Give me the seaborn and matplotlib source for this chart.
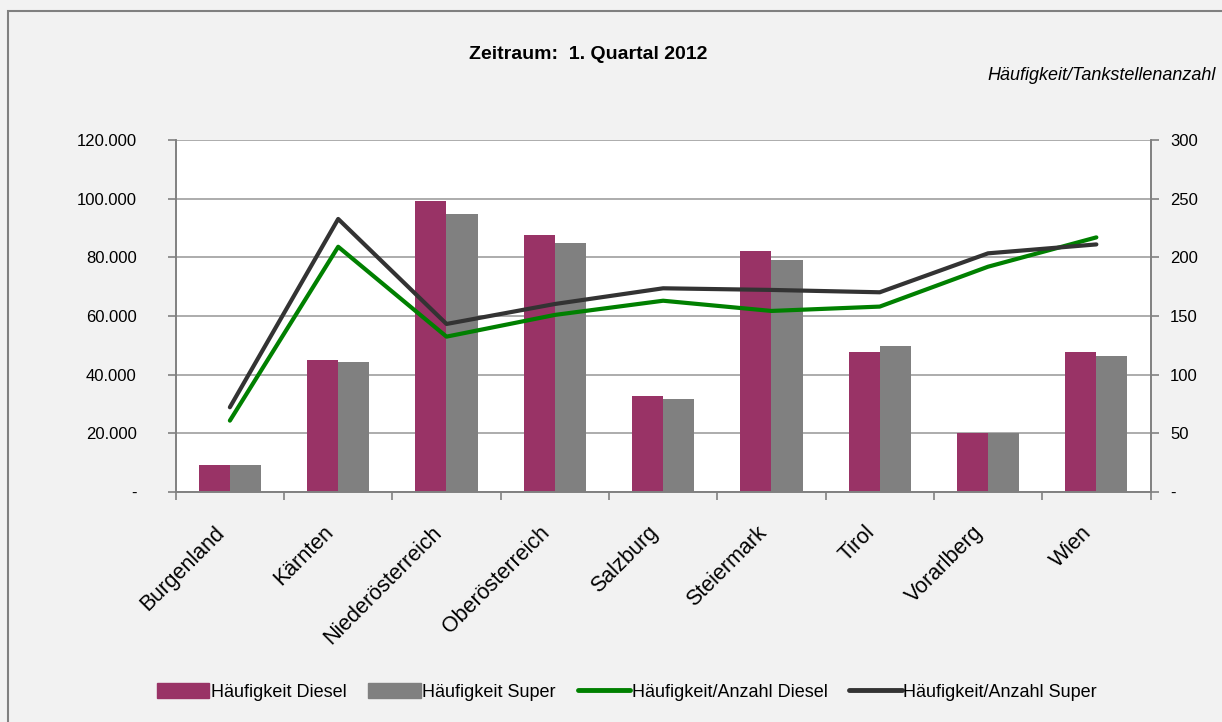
import matplotlib.pyplot as plt
import matplotlib.patches as mpatches
import matplotlib.lines as mlines
from matplotlib.ticker import FuncFormatter, FixedLocator
from matplotlib.transforms import ScaledTranslation
import seaborn as sns
import pandas as pd
import numpy as np

# Data
regions = ['Burgenland', 'Kärnten', 'Niederösterreich', 'Oberösterreich', 'Salzburg',
           'Steiermark', 'Tirol', 'Vorarlberg', 'Wien']
freq_diesel = [9200, 45000, 99200, 87600, 32700, 82200, 47700, 20000, 47700]
freq_super = [9200, 44300, 94800, 84900, 31700, 79100, 49800, 20000, 46400]
ratio_diesel = [60.8, 209, 132.4, 150.9, 163, 154.3, 158, 192, 217]
ratio_super = [72.2, 232.7, 143.2, 160.2, 173.6, 172.2, 170.2, 203.4, 211]

c_diesel = '#993366'
c_super = '#808080'
c_line_d = '#008000'
c_line_s = '#333333'

sns.set_theme(style='white')
plt.rcParams['font.family'] = ['Liberation Sans', 'DejaVu Sans']
plt.rcParams['text.color'] = 'black'
plt.rcParams['xtick.color'] = 'black'
plt.rcParams['ytick.color'] = 'black'

df = pd.DataFrame({
    'Region': regions * 2,
    'Wert': freq_diesel + freq_super,
    'Serie': ['Häufigkeit Diesel'] * 9 + ['Häufigkeit Super'] * 9,
})

fig = plt.figure(figsize=(12.22, 7.22), dpi=100, facecolor='#f2f2f2')
fig.patches.append(mpatches.Rectangle((8 / 1222, -0.01), 1.1, 1 - 11 / 722 + 0.01,
                                      transform=fig.transFigure, fill=False,
                                      edgecolor='#808080', linewidth=1.5))
ax = fig.add_axes([0.1438, 0.3186, 0.7977, 0.4875])
ax.set_facecolor('white')

sns.barplot(data=df, x='Region', y='Wert', hue='Serie', order=regions,
            palette=[c_diesel, c_super], width=0.575, gap=0, saturation=1,
            linewidth=0, ax=ax, legend=False)

ax.set_ylim(0, 120000)
ax.set_yticks(np.arange(0, 120001, 20000))
ax.yaxis.set_major_formatter(FuncFormatter(
    lambda v, p: '-' if v == 0 else f'{int(v):,}'.replace(',', '.')))
ax.set_xlim(-0.5, 8.5)
ax.grid(axis='y', color='#a6a6a6', linewidth=1.3)
ax.set_axisbelow(True)
ax.set_xlabel('')
ax.set_ylabel('')

ax2 = ax.twinx()
x_pos = np.arange(len(regions))
sns.lineplot(x=x_pos, y=ratio_diesel, color=c_line_d, linewidth=3, ax=ax2)
sns.lineplot(x=x_pos, y=ratio_super, color=c_line_s, linewidth=3, ax=ax2)
ax2.set_ylim(0, 300)
ax2.set_yticks(np.arange(0, 301, 50))
ax2.yaxis.set_major_formatter(FuncFormatter(lambda v, p: '-' if v == 0 else f'{int(v)}'))
ax2.set_xlim(-0.5, 8.5)

for a in (ax, ax2):
    for s in a.spines.values():
        s.set_color('#808080')
        s.set_linewidth(1.2)
    a.spines['top'].set_visible(False)

ax.tick_params(axis='y', direction='out', length=6, color='#808080', width=1.2,
               labelsize=12, pad=22, left=True)
ax2.tick_params(axis='y', direction='out', length=6, color='#808080', width=1.2,
                labelsize=12, pad=8, right=True)
ax.set_xticks(x_pos)
ax.tick_params(axis='x', which='major', length=0, pad=27)
ax.set_xticklabels(regions, rotation=45, ha='right', va='center',
                   rotation_mode='anchor', fontsize=15.5)
ax.xaxis.set_minor_locator(FixedLocator(np.arange(-0.5, 9, 1)))
ax.tick_params(axis='x', which='minor', direction='out', length=6, color='#808080',
               width=1.2, bottom=True)
ax.spines['bottom'].set_color('#808080')
shift = ScaledTranslation(-8 / 100, 0, fig.dpi_scale_trans)
for lbl in ax.get_xticklabels():
    lbl.set_transform(lbl.get_transform() + shift)

fig.text(0.481, 0.924, 'Zeitraum:  1. Quartal 2012', ha='center', va='center',
         fontsize=14, fontweight='bold')
fig.text(0.995, 0.895, 'Häufigkeit/Tankstellenanzahl', ha='right', va='center',
         fontsize=13, style='italic')

handles = [
    mpatches.Patch(color=c_diesel, label='Häufigkeit Diesel'),
    mpatches.Patch(color=c_super, label='Häufigkeit Super'),
    mlines.Line2D([], [], color=c_line_d, linewidth=3.5, label='Häufigkeit/Anzahl Diesel'),
    mlines.Line2D([], [], color=c_line_s, linewidth=3.5, label='Häufigkeit/Anzahl Super'),
]
fig.legend(handles=handles, loc='center', bbox_to_anchor=(0.513, 0.042), ncol=4,
           frameon=False, fontsize=13, handlelength=2.9, handleheight=0.9,
           handletextpad=0.1, columnspacing=1.2)

fig.savefig('out.png', dpi=100, facecolor=fig.get_facecolor())
